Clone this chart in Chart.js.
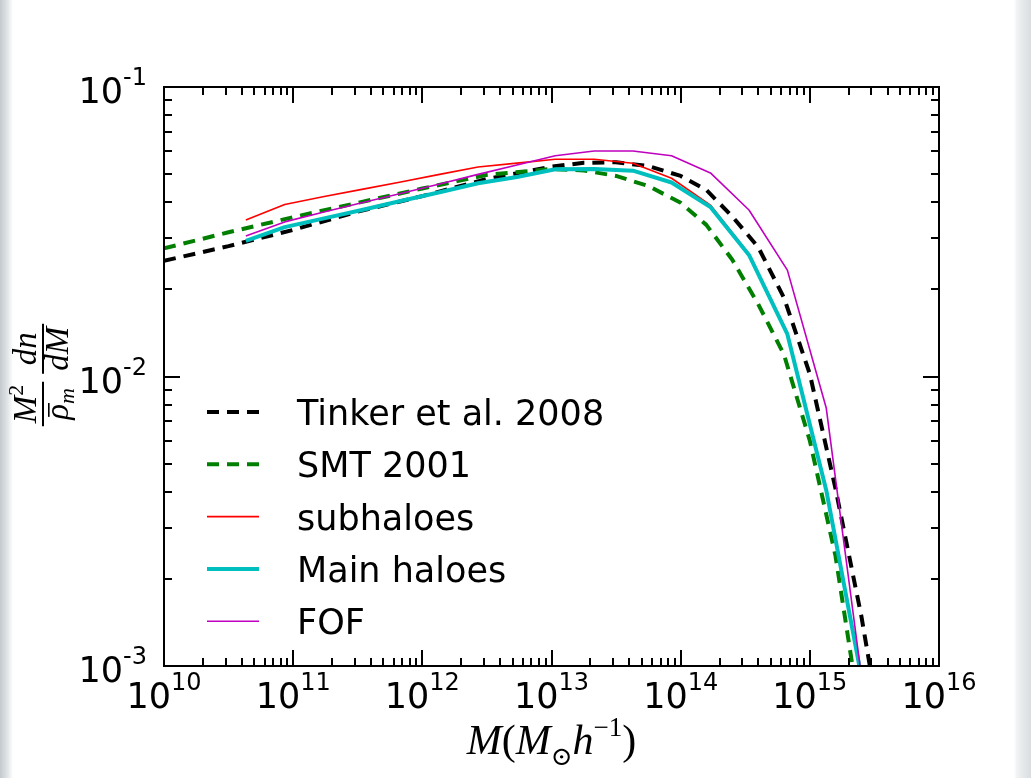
<!DOCTYPE html>
<html>
<head>
<meta charset="utf-8">
<script src="https://cdn.jsdelivr.net/npm/chart.js"></script>
<style>
html, body { margin: 0; padding: 0; }
body {
  width: 1031px; height: 778px; overflow: hidden;
  background: linear-gradient(to right, #c3c9cd 0, #dfe3e6 7px, #f4f5f6 11px, #fff 13px, #fff 1014px, #f0f2f3 1017px, #d9dde0 1031px);
}
canvas { display: block; }
</style>
</head>
<body>
<canvas id="hmf" width="1031" height="778"></canvas>
<script>
// Halo mass function M^2/rho_m dn/dM, simulation vs. fits

// simulation bins (M in Msun/h)
var mass_sim = [4.3e10, 8.6e10, 1.7e11, 3.4e11, 6.8e11, 1.36e12, 2.7e12, 5.4e12, 1.07e13,
                2.14e13, 4.27e13, 8.5e13, 1.7e14, 3.38e14, 6.7e14, 1.34e15, 2.67e15];
var subhaloes   = [0.0347, 0.0393, 0.0418, 0.0443, 0.0470, 0.0499, 0.0529, 0.0546, 0.0563,
                   0.0563, 0.0545, 0.0484, 0.0391, 0.0265, 0.0142, 0.0041, 0.0008];
var main_haloes = [0.0294, 0.0328, 0.0351, 0.0376, 0.0404, 0.0433, 0.0465, 0.0489, 0.0520,
                   0.0521, 0.0514, 0.0468, 0.0385, 0.0263, 0.0140, 0.00405, 0.00079];
var fof         = [0.0306, 0.0342, 0.0369, 0.0398, 0.0429, 0.0462, 0.0499, 0.0538, 0.0579,
                   0.0601, 0.0601, 0.0579, 0.0505, 0.0376, 0.0233, 0.00778, 0.000745];

// fitting functions
var mass_fit = [1e10, 3.16e10, 1e11, 3.16e11, 1e12, 3.16e12, 1e13, 1.78e13, 3.16e13, 5.62e13,
                1e14, 1.58e14, 2.51e14, 3.98e14, 6.31e14, 1e15, 1.58e15, 2.51e15, 3.16e15];
var tinker08 = [0.0251, 0.0282, 0.0321, 0.0371, 0.0420, 0.0481, 0.0531, 0.0547, 0.0550, 0.0533,
                0.0493, 0.0441, 0.0357, 0.0280, 0.0187, 0.0102, 0.0041, 0.00148, 0.00081];
var smt01    = [0.0277, 0.0315, 0.0355, 0.0398, 0.0446, 0.0497, 0.0521, 0.0515, 0.0493, 0.0455,
                0.0398, 0.0334, 0.0253, 0.0178, 0.0119, 0.0060, 0.0024, 0.00063, 0.0003];

var x_decades = [10, 11, 12, 13, 14, 15, 16];
var y_decades = [-3, -2, -1];

var series = [
  { label: 'Tinker et al. 2008', m: mass_fit, v: tinker08,    color: '#000000', lw: 4,   dash: [12, 8] },
  { label: 'SMT 2001',           m: mass_fit, v: smt01,       color: '#007f00', lw: 4,   dash: [12, 8] },
  { label: 'subhaloes',          m: mass_sim, v: subhaloes,   color: '#ff0000', lw: 1.6, dash: [] },
  { label: 'Main haloes',        m: mass_sim, v: main_haloes, color: '#00bfbf', lw: 4,   dash: [] },
  { label: 'FOF',                m: mass_sim, v: fof,         color: '#bf00bf', lw: 1.6, dash: [] }
];

var datasets = series.map(function (s, i) {
  return {
    label: s.label,
    data: s.m.map(function (m, j) { return { x: m, y: s.v[j] }; }),
    borderColor: s.color,
    borderWidth: s.lw,
    borderDash: s.dash,
    borderJoinStyle: 'round',
    pointRadius: 0,
    tension: 0,
    fill: false,
    order: series.length - i   // later series on top
  };
});

var TXT = '"DejaVu Sans", sans-serif';
var SERIF = '"Liberation Serif", "DejaVu Serif", serif';

// draw a list of text runs starting at x, baseline y; returns width
function runs(ctx, list, x, y, measureOnly) {
  var w = 0;
  list.forEach(function (r) {
    ctx.font = r.f;
    if (!measureOnly) ctx.fillText(r.t, x + w, y + (r.dy || 0));
    w += ctx.measureText(r.t).width + (r.gap || 0);
  });
  return w;
}

function powLabel(e) {
  return [
    { t: '10', f: '35px ' + TXT },
    { t: String(e), f: '24px ' + TXT, dy: -18 }
  ];
}

var axesDecor = {
  id: 'axesDecor',
  afterDraw: function (chart) {
    var ctx = chart.ctx, a = chart.chartArea;
    var xs = chart.scales.x, ys = chart.scales.y;
    ctx.save();
    ctx.fillStyle = '#000';
    ctx.strokeStyle = '#000';
    ctx.lineWidth = 2;
    ctx.textBaseline = 'alphabetic';

    // frame
    ctx.strokeRect(a.left, a.top, a.right - a.left, a.bottom - a.top);

    // x ticks, bottom and top, pointing in
    ctx.beginPath();
    x_decades.forEach(function (e) {
      for (var m = 1; m < 10; m++) {
        if (e === 16 && m > 1) break;
        var px = Math.round(xs.getPixelForValue(m * Math.pow(10, e)));
        var len = m === 1 ? 16 : 8;
        ctx.moveTo(px, a.bottom); ctx.lineTo(px, a.bottom - len);
        ctx.moveTo(px, a.top);    ctx.lineTo(px, a.top + len);
      }
    });
    // y ticks, left and right
    y_decades.forEach(function (e) {
      for (var m = 1; m < 10; m++) {
        if (e === -1 && m > 1) break;
        var py = Math.round(ys.getPixelForValue(m * Math.pow(10, e)));
        var len = m === 1 ? 16 : 8;
        ctx.moveTo(a.left, py);  ctx.lineTo(a.left + len, py);
        ctx.moveTo(a.right, py); ctx.lineTo(a.right - len, py);
      }
    });
    ctx.stroke();

    // tick labels
    x_decades.forEach(function (e) {
      var px = xs.getPixelForValue(Math.pow(10, e));
      var lab = powLabel(e);
      var w = runs(ctx, lab, 0, 0, true);
      runs(ctx, lab, px - w / 2, a.bottom + 42);
    });
    y_decades.forEach(function (e) {
      var py = ys.getPixelForValue(Math.pow(10, e));
      var lab = powLabel(e);
      var w = runs(ctx, lab, 0, 0, true);
      runs(ctx, lab, a.left - 17 - w, py + 16);
    });

    // x title: M(M_sun h^-1)
    var xt = [
      { t: 'M', f: 'italic 42px ' + SERIF },
      { t: '(', f: '42px ' + SERIF },
      { t: 'M', f: 'italic 42px ' + SERIF },
      { t: '\u2299', f: '26px ' + SERIF, dy: 11 },
      { t: 'h', f: 'italic 42px ' + SERIF },
      { t: '\u22121', f: '27px ' + SERIF, dy: -18 },
      { t: ')', f: '42px ' + SERIF }
    ];
    var xw = runs(ctx, xt, 0, 0, true);
    runs(ctx, xt, (a.left + a.right) / 2 - xw / 2, 754);

    // y title: M^2/rho_m dn/dM, rotated
    ctx.save();
    ctx.translate(43, 375);
    ctx.rotate(-Math.PI / 2);
    var num1 = [{ t: 'M', f: 'italic 33px ' + SERIF }, { t: '2', f: '22px ' + SERIF, dy: -13 }];
    var den1 = [{ t: '\u03c1', f: 'italic 33px ' + SERIF }, { t: 'm', f: 'italic 22px ' + SERIF, dy: 6 }];
    var num2 = [{ t: 'dn', f: 'italic 33px ' + SERIF }];
    var den2 = [{ t: 'dM', f: 'italic 33px ' + SERIF }];
    function fracWidth(num, den) {
      return Math.max(runs(ctx, num, 0, 0, true), runs(ctx, den, 0, 0, true)) + 6;
    }
    function frac(u, num, den) {
      var wn = runs(ctx, num, 0, 0, true), wd = runs(ctx, den, 0, 0, true);
      var w = Math.max(wn, wd) + 6;
      ctx.fillRect(u, -1, w, 2);
      runs(ctx, num, u + (w - wn) / 2, -7);
      runs(ctx, den, u + (w - wd) / 2, 25);
      return u + (w - wd) / 2;
    }
    var w1 = fracWidth(num1, den1), w2 = fracWidth(num2, den2), gap = 8;
    var u0 = -(w1 + gap + w2) / 2;
    var rhoX = frac(u0, num1, den1);
    // bar over rho
    ctx.font = 'italic 33px ' + SERIF;
    ctx.fillRect(rhoX + 3, 5, ctx.measureText('\u03c1').width - 2, 1.6);
    frac(u0 + w1 + gap, num2, den2);
    ctx.restore();

    // legend
    var ly0 = 412, dy = 52.3;
    chart.data.datasets.forEach(function (ds, i) {
      var y = ly0 + i * dy;
      ctx.save();
      ctx.strokeStyle = ds.borderColor;
      ctx.lineWidth = ds.borderWidth;
      ctx.setLineDash(ds.borderDash);
      ctx.lineCap = 'butt';
      ctx.beginPath();
      ctx.moveTo(207, y); ctx.lineTo(259, y);
      ctx.stroke();
      ctx.restore();
      ctx.font = '35px ' + TXT;
      ctx.fillText(ds.label, 297, y + 13);
    });

    ctx.restore();
  }
};

new Chart(document.getElementById('hmf'), {
  type: 'line',
  data: { datasets: datasets },
  options: {
    responsive: false,
    animation: false,
    devicePixelRatio: 1,
    layout: { padding: { left: 164, right: 92, top: 87, bottom: 112 } },
    plugins: { legend: { display: false }, tooltip: { enabled: false } },
    scales: {
      x: {
        type: 'logarithmic', min: 1e10, max: 1e16,
        grid: { display: false }, border: { display: false },
        ticks: { display: false },
        afterFit: function (s) { s.height = 0; }
      },
      y: {
        type: 'logarithmic', min: 1e-3, max: 1e-1,
        grid: { display: false }, border: { display: false },
        ticks: { display: false },
        afterFit: function (s) { s.width = 0; }
      }
    }
  },
  plugins: [axesDecor]
});
</script>
</body>
</html>
